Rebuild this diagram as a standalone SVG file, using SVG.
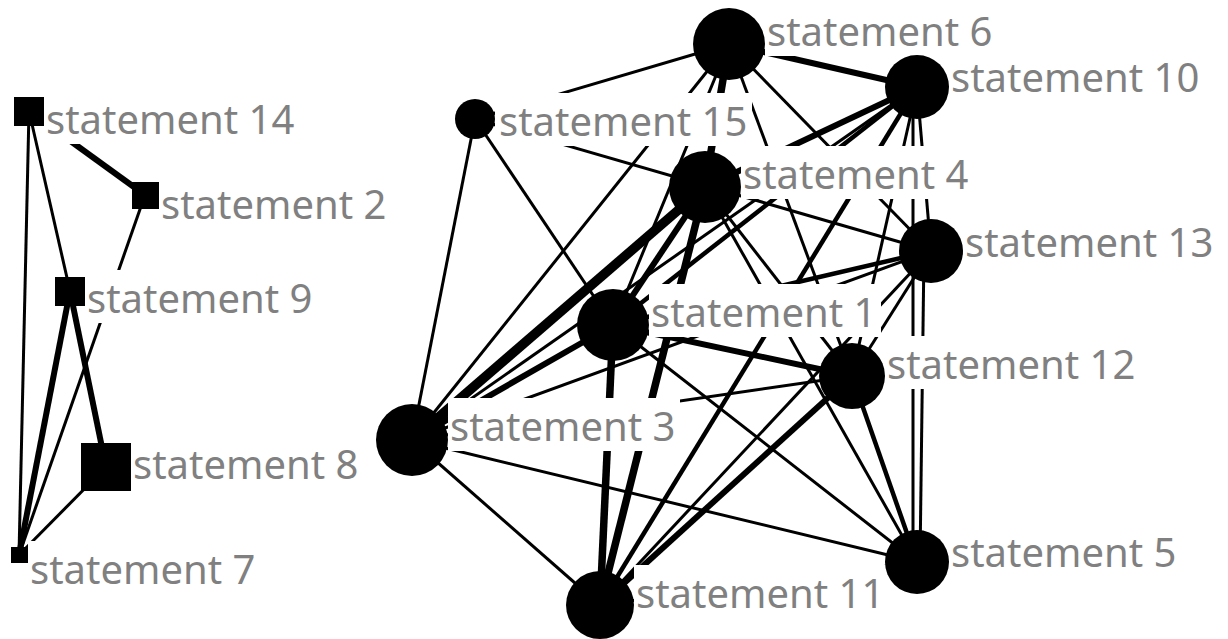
<svg xmlns="http://www.w3.org/2000/svg" width="1228" height="639" viewBox="0 0 1228 639">
<style>
.e{stroke:#000;stroke-linecap:butt;fill:none}
.t1{stroke-width:3}
.t2{stroke-width:4.5}
.t3{stroke-width:6}
.t4{stroke-width:7.5}
.t5{stroke-width:9.5}
.nd{fill:#000}
.bx{fill:#fff}
.lb{font-family:"Noto Sans","DejaVu Sans",sans-serif;font-size:40px;fill:#808080}
</style>
<rect width="1228" height="639" fill="#fff"/>
<g id="connectors">
<line class="e t1" x1="29" y1="111" x2="19" y2="555"/>
<line class="e t1" x1="29" y1="111" x2="70" y2="291"/>
<line class="e t3" x1="29" y1="111" x2="145" y2="195"/>
<line class="e t1" x1="145" y1="195" x2="19" y2="555"/>
<line class="e t3" x1="70" y1="291" x2="19" y2="555"/>
<line class="e t3" x1="70" y1="291" x2="106" y2="467"/>
<line class="e t1" x1="106" y1="467" x2="19" y2="555"/>
<line class="e t1" x1="475" y1="119" x2="729" y2="44"/>
<line class="e t1" x1="475" y1="119" x2="412" y2="440"/>
<line class="e t1" x1="475" y1="119" x2="613" y2="325"/>
<line class="e t1" x1="475" y1="119" x2="931" y2="251"/>
<line class="e t1" x1="729" y1="44" x2="412" y2="440"/>
<line class="e t1" x1="729" y1="44" x2="613" y2="325"/>
<line class="e t1" x1="729" y1="44" x2="852" y2="376"/>
<line class="e t1" x1="729" y1="44" x2="931" y2="251"/>
<line class="e t1" x1="917" y1="87" x2="412" y2="440"/>
<line class="e t1" x1="917" y1="87" x2="852" y2="376"/>
<line class="e t1" x1="917" y1="87" x2="931" y2="251"/>
<line class="e t1" x1="913" y1="87" x2="913" y2="562"/>
<line class="e t1" x1="412" y1="440" x2="931" y2="251"/>
<line class="e t1" x1="412" y1="440" x2="852" y2="376"/>
<line class="e t1" x1="412" y1="440" x2="917" y2="562"/>
<line class="e t1" x1="412" y1="440" x2="600" y2="605"/>
<line class="e t1" x1="613" y1="325" x2="917" y2="562"/>
<line class="e t1" x1="931" y1="251" x2="852" y2="376"/>
<line class="e t1" x1="931" y1="251" x2="600" y2="605"/>
<line class="e t1" x1="924" y1="251" x2="920" y2="562"/>
<line class="e t1" x1="705" y1="187" x2="852" y2="376"/>
<line class="e t1" x1="705" y1="187" x2="917" y2="562"/>
<line class="e t1" x1="600" y1="605" x2="917" y2="562"/>
<line class="e t3" x1="729" y1="44" x2="917" y2="87"/>
<line class="e t4" x1="729" y1="44" x2="705" y2="187"/>
<line class="e t3" x1="917" y1="87" x2="705" y2="187"/>
<line class="e t2" x1="917" y1="87" x2="613" y2="325"/>
<line class="e t2" x1="917" y1="87" x2="600" y2="605"/>
<line class="e t5" x1="412" y1="440" x2="705" y2="187"/>
<line class="e t3" x1="412" y1="440" x2="613" y2="325"/>
<line class="e t3" x1="613" y1="325" x2="705" y2="187"/>
<line class="e t4" x1="613" y1="325" x2="600" y2="605"/>
<line class="e t4" x1="705" y1="187" x2="600" y2="605"/>
<line class="e t3" x1="613" y1="325" x2="852" y2="376"/>
<line class="e t3" x1="852" y1="376" x2="600" y2="605"/>
<line class="e t2" x1="852" y1="376" x2="917" y2="562"/>
<line class="e t2" x1="931" y1="251" x2="613" y2="325"/>
</g>
<g id="label-boxes">
<rect class="bx" x="44" y="91" width="255" height="53"/>
<rect class="bx" x="159" y="176" width="232" height="53"/>
<rect class="bx" x="85" y="270" width="232" height="53"/>
<rect class="bx" x="131" y="436" width="232" height="53"/>
<rect class="bx" x="28" y="541" width="232" height="53"/>
<rect class="bx" x="765" y="3" width="232" height="53"/>
<rect class="bx" x="949" y="49" width="255" height="53"/>
<rect class="bx" x="495" y="93" width="257" height="53"/>
<rect class="bx" x="741" y="146" width="232" height="53"/>
<rect class="bx" x="963" y="214" width="255" height="53"/>
<rect class="bx" x="649" y="284" width="232" height="53"/>
<rect class="bx" x="885" y="336" width="255" height="53"/>
<rect class="bx" x="448" y="398" width="232" height="53"/>
<rect class="bx" x="949" y="524" width="232" height="53"/>
<rect class="bx" x="634" y="565" width="255" height="53"/>
</g>
<g id="n14"><rect class="nd" x="14" y="97" width="30" height="29"/><text class="lb" x="46" y="134">statement 14</text></g>
<g id="n2"><rect class="nd" x="132" y="182" width="27" height="27"/><text class="lb" x="161" y="219">statement 2</text></g>
<g id="n9"><rect class="nd" x="55" y="277" width="30" height="29"/><text class="lb" x="87" y="313">statement 9</text></g>
<g id="n8"><rect class="nd" x="81" y="443" width="50" height="48"/><text class="lb" x="133" y="479">statement 8</text></g>
<g id="n7"><rect class="nd" x="11" y="547" width="17" height="16"/><text class="lb" x="30" y="584">statement 7</text></g>
<g id="n6"><circle class="nd" cx="729" cy="44" r="36"/><text class="lb" x="767" y="46">statement 6</text></g>
<g id="n10"><circle class="nd" cx="917" cy="87" r="32"/><text class="lb" x="951" y="92">statement 10</text></g>
<g id="n15"><circle class="nd" cx="475" cy="119" r="20"/><text class="lb" x="499" y="136">statement 15</text></g>
<g id="n4"><circle class="nd" cx="705" cy="187" r="36"/><text class="lb" x="743" y="189">statement 4</text></g>
<g id="n13"><circle class="nd" cx="931" cy="251" r="32"/><text class="lb" x="965" y="257">statement 13</text></g>
<g id="n1"><circle class="nd" cx="613" cy="325" r="36"/><text class="lb" x="651" y="327">statement 1</text></g>
<g id="n12"><circle class="nd" cx="852" cy="376" r="33"/><text class="lb" x="887" y="379">statement 12</text></g>
<g id="n3"><circle class="nd" cx="412" cy="440" r="36"/><text class="lb" x="450" y="441">statement 3</text></g>
<g id="n5"><circle class="nd" cx="917" cy="562" r="32"/><text class="lb" x="951" y="567">statement 5</text></g>
<g id="n11"><circle class="nd" cx="600" cy="605" r="34"/><text class="lb" x="636" y="608">statement 11</text></g>
</svg>
